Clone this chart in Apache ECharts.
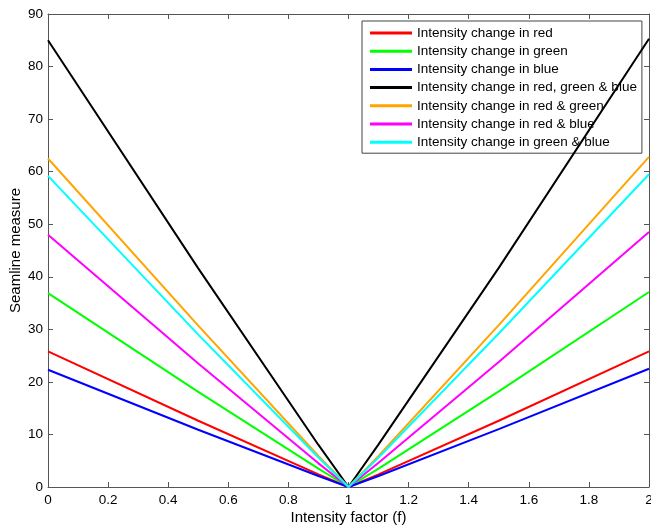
<!DOCTYPE html>
<html>
<head>
<meta charset="utf-8">
<script src="https://cdn.jsdelivr.net/npm/echarts@6/dist/echarts.min.js"></script>
<style>
  html, body { margin: 0; padding: 0; background: #fff; }
  #chart { width: 651px; height: 530px; }
</style>
</head>
<body>
<div id="chart"></div>
<script>
// Intensity factor samples (f)
const intensityFactor = [0, 0.5, 0.9, 1, 1.1, 1.5, 2];

// Seamline measure per colour-channel change
const redChange       = [25.8, 12.6, 2.4, 0, 2.4, 12.6, 25.8];
const greenChange     = [36.9, 18.1, 3.5, 0, 3.5, 18.2, 37.1];
const blueChange      = [22.3, 10.9, 2.1, 0, 2.1, 11.0, 22.5];
const rgbChange       = [85.0, 41.6, 8.0, 0, 8.1, 41.7, 85.3];
const redGreenChange  = [62.5, 30.7, 5.9, 0, 5.9, 30.8, 62.8];
const redBlueChange   = [48.0, 23.5, 4.5, 0, 4.6, 23.8, 48.5];
const greenBlueChange = [59.2, 29.0, 5.6, 0, 5.6, 29.2, 59.5];

const seriesNames = [
  'Intensity change in red',
  'Intensity change in green',
  'Intensity change in blue',
  'Intensity change in red, green & blue',
  'Intensity change in red & green',
  'Intensity change in red & blue',
  'Intensity change in green & blue'
];
const seriesValues = [redChange, greenChange, blueChange, rgbChange,
                      redGreenChange, redBlueChange, greenBlueChange];
const seriesColors = ['#ff0000', '#00ff00', '#0000ff', '#000000',
                      '#ffa500', '#ff00ff', '#00ffff'];

const axisColor = '#555';
const font = 'Liberation Sans, Arial, Helvetica, sans-serif';

function pairs(values) {
  return intensityFactor.map((f, i) => [f, values[i]]);
}

const chart = echarts.init(document.getElementById('chart'), null, { renderer: 'canvas' });

const boxAxis = {
  axisLine: { show: true, onZero: false, lineStyle: { color: axisColor, width: 1 } },
  axisTick: { show: true, inside: true, length: 5, lineStyle: { color: axisColor } },
  axisLabel: { show: false },
  splitLine: { show: false }
};

chart.setOption({
  animation: false,
  backgroundColor: '#ffffff',
  grid: { left: 48, right: 2, top: 14, bottom: 43, containLabel: false, outerBoundsMode: 'none' },
  legend: {
    left: 362,
    top: 21,
    orient: 'vertical',
    backgroundColor: '#ffffff',
    borderColor: '#444',
    borderWidth: 1,
    borderRadius: 0,
    padding: [5, 5, 4, 8],
    itemWidth: 42,
    itemHeight: 3,
    itemGap: 4.2,
    icon: 'rect',
    textStyle: { fontFamily: font, fontSize: 13.5, color: '#000', lineHeight: 14, height: 14 },
    data: seriesNames
  },
  xAxis: [
    {
      type: 'value', min: 0, max: 2, interval: 0.2, position: 'bottom',
      name: 'Intensity factor (f)', nameLocation: 'middle', nameGap: 23, nameMoveOverlap: false,
      nameTextStyle: { fontFamily: font, fontSize: 15, color: '#000' },
      axisLine: { show: true, onZero: false, lineStyle: { color: axisColor, width: 1 } },
      axisTick: { show: true, inside: true, length: 5, lineStyle: { color: axisColor } },
      axisLabel: { fontFamily: font, fontSize: 13.5, color: '#000', margin: 6,
                   formatter: v => String(+v.toFixed(1)) },
      splitLine: { show: false }
    },
    Object.assign({ type: 'value', min: 0, max: 2, interval: 0.2, position: 'top' }, boxAxis)
  ],
  yAxis: [
    {
      type: 'value', min: 0, max: 90, interval: 10, position: 'left',
      name: 'Seamline measure', nameLocation: 'middle', nameGap: 25, nameMoveOverlap: false,
      nameTextStyle: { fontFamily: font, fontSize: 15, color: '#000' },
      axisLine: { show: true, onZero: false, lineStyle: { color: axisColor, width: 1 } },
      axisTick: { show: true, inside: true, length: 5, lineStyle: { color: axisColor } },
      axisLabel: { fontFamily: font, fontSize: 13.5, color: '#000', margin: 5 },
      splitLine: { show: false }
    },
    Object.assign({ type: 'value', min: 0, max: 90, interval: 10, position: 'right' }, boxAxis)
  ],
  series: seriesNames.map((name, i) => ({
    name: name,
    type: 'line',
    xAxisIndex: 0,
    yAxisIndex: 0,
    data: pairs(seriesValues[i]),
    symbol: 'none',
    showSymbol: false,
    color: seriesColors[i],
    lineStyle: { color: seriesColors[i], width: 2 },
    z: 2 + i
  }))
});
</script>
</body>
</html>
